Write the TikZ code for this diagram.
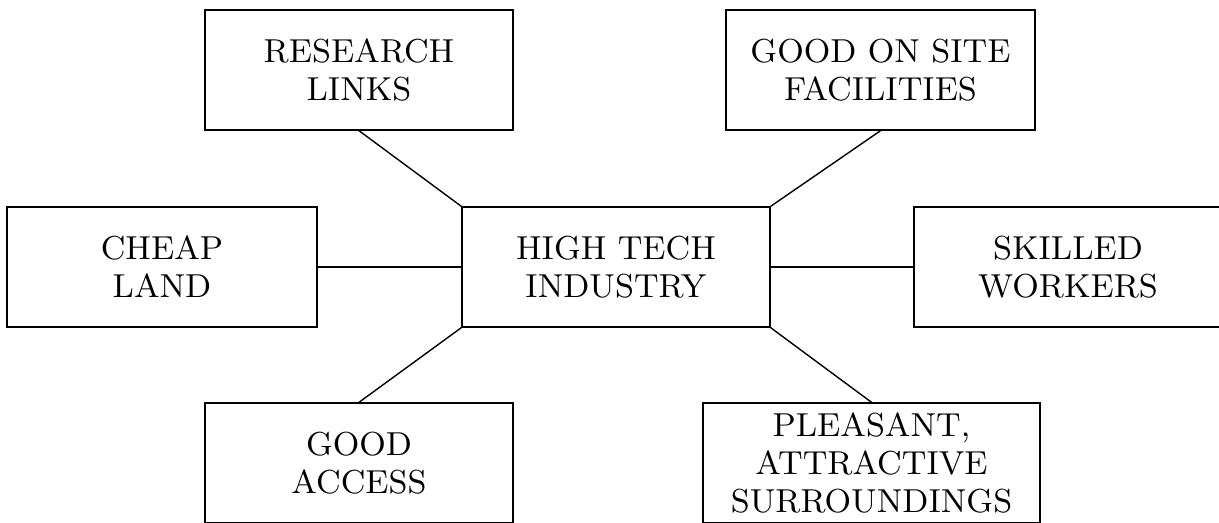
\documentclass[tikz,border=0pt]{standalone}
\usepackage{tikz}
\usetikzlibrary{shapes.geometric, arrows}
\tikzstyle{factor} = [rectangle, minimum width=3.08cm, minimum height=1.2cm, inner sep=2pt, text centered, align=center, draw=black, font=\fontsize{9.45}{10.8}\selectfont]
\tikzstyle{link} = [thin]

\begin{document}
\begin{tikzpicture}[node distance=1.97cm]
    \useasboundingbox (-6.16,-2.55) rectangle (6.03,2.67);

    \node (hub) [factor] {HIGH TECH\\INDUSTRY};
    \node (research) [factor, above of=hub, xshift=-2.57cm] {RESEARCH\\LINKS};
    \node (facilities) [factor, above of=hub, xshift=2.645cm, minimum width=3.09cm] {GOOD ON SITE\\FACILITIES};
    \node (land) [factor, left of=hub, xshift=-2.57cm, minimum width=3.1cm] {CHEAP\\LAND};
    \node (workers) [factor, right of=hub, xshift=2.55cm] {SKILLED\\WORKERS};
    \node (access) [factor, below of=hub, yshift=0.01cm, xshift=-2.57cm] {GOOD\\ACCESS};
    \node (surround) [factor, below of=hub, yshift=0.01cm, xshift=2.555cm, minimum width=3.37cm] {PLEASANT,\\ATTRACTIVE\\SURROUNDINGS};

    \draw [link] (hub.north west) -- (research.south);
    \draw [link] (hub.north east) -- (facilities.south);
    \draw [link] (hub.west) -- (land.east);
    \draw [link] (hub.east) -- (workers.west);
    \draw [link] (hub.south west) -- (access.north);
    \draw [link] (hub.south east) -- (surround.north);
\end{tikzpicture}
\end{document}
